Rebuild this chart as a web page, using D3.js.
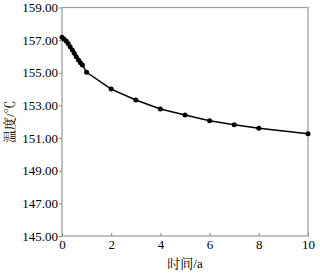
<!DOCTYPE html>
<html>
<head>
<meta charset="utf-8">
<script src="https://cdn.jsdelivr.net/npm/d3@7"></script>
<style>
  body { margin: 0; background: #fff; }
  svg text { font-family: "Liberation Serif", "Times New Roman", Times, "Noto Serif CJK SC", "Noto Sans CJK SC", serif !important; }
</style>
</head>
<body>
<div id="chart"></div>
<script>
// time in years and temperature values
const times = [0, 0.08, 0.17, 0.25, 0.33, 0.42, 0.5, 0.58, 0.67, 0.75, 0.83, 1, 2, 3, 4, 5, 6, 7, 8, 10];
const temps = [157.17, 157.07, 156.95, 156.8, 156.6, 156.4, 156.2, 155.99, 155.78, 155.62, 155.48, 155.03,
               154.0, 153.33, 152.78, 152.41, 152.06, 151.82, 151.6, 151.27];
const xTicks = [0, 2, 4, 6, 8, 10];
const yTicks = [145, 147, 149, 151, 153, 155, 157, 159];

const width = 320;
const height = 276;
const margin = { left: 62, right: 12, top: 7.5, bottom: 40 };

const svg = d3.select("#chart")
    .append("svg")
    .attr("width", width)
    .attr("height", height);

const x = d3.scaleLinear().domain([0, 10]).range([margin.left, width - margin.right]);
const y = d3.scaleLinear().domain([145, 159]).range([height - margin.bottom, margin.top]);

const data = times.map((t, i) => ({ t: t, v: temps[i] }));

// frame
svg.append("rect")
    .attr("x", x(0))
    .attr("y", y(159))
    .attr("width", x(10) - x(0))
    .attr("height", y(145) - y(159))
    .attr("fill", "none")
    .attr("stroke", "#a0a0a0")
    .attr("stroke-width", 1.3);

// x axis, ticks inward
const xAxis = svg.append("g")
    .attr("transform", `translate(0,${y(145)})`)
    .call(d3.axisBottom(x).tickValues(xTicks).tickSizeInner(-3).tickSizeOuter(0).tickPadding(4));
xAxis.select(".domain").remove();
xAxis.selectAll("line").attr("stroke", "#888");
xAxis.selectAll("text").attr("font-size", 13).attr("fill", "#000");

// y axis, ticks outward
const yAxis = svg.append("g")
    .attr("transform", `translate(${x(0)},0)`)
    .call(d3.axisLeft(y).tickValues(yTicks).tickFormat(d3.format(".2f")).tickSizeInner(3).tickSizeOuter(0).tickPadding(1));
yAxis.select(".domain").remove();
yAxis.selectAll("line").attr("stroke", "#888");
yAxis.selectAll("text").attr("font-size", 13).attr("fill", "#000");

// line
svg.append("path")
    .datum(data)
    .attr("fill", "none")
    .attr("stroke", "#000")
    .attr("stroke-width", 1.5)
    .attr("d", d3.line().x(d => x(d.t)).y(d => y(d.v)));

// markers
svg.selectAll("circle.pt")
    .data(data)
    .enter().append("circle")
    .attr("class", "pt")
    .attr("cx", d => x(d.t))
    .attr("cy", d => y(d.v))
    .attr("r", 2.5)
    .attr("fill", "#000");

// axis labels
svg.append("text")
    .attr("x", (x(0) + x(10)) / 2)
    .attr("y", 268)
    .attr("text-anchor", "middle")
    .attr("font-size", 13)
    .text("时间/a");

svg.append("text")
    .attr("transform", `translate(14,${(y(145) + y(159)) / 2}) rotate(-90)`)
    .attr("text-anchor", "middle")
    .attr("font-size", 13)
    .text("温度/℃");
</script>
</body>
</html>
